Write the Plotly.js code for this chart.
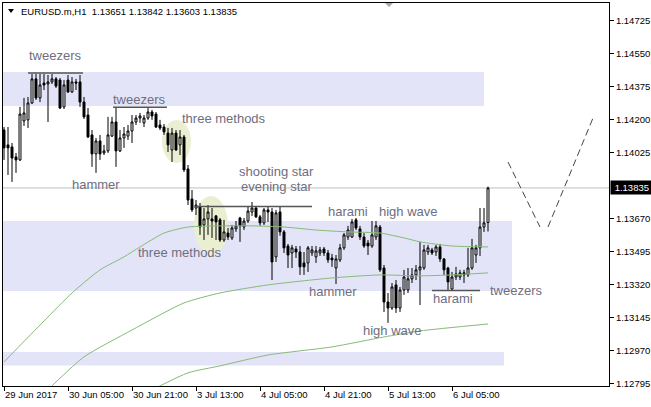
<!DOCTYPE html>
<html>
<head>
<meta charset="utf-8">
<script src="https://cdn.plot.ly/plotly-3.0.1.min.js"></script>
<style>
  html, body { margin: 0; padding: 0; background: #ffffff; }
  #chart { width: 651px; height: 407px; }
</style>
</head>
<body>
<div id="chart"></div>
<script>
// EURUSD.m, H1 candles (bar 0 = 29 Jun 2017)
const symbol = 'EURUSD.m,H1';

const open = [
  1.14143, 1.14064, 1.14053, 1.14000, 1.13984, 1.14191, 1.14197, 1.14287, 1.14415, 1.14314,
  1.14393, 1.14388, 1.14399, 1.14415, 1.14409, 1.14266, 1.14409, 1.14346, 1.14399, 1.14399,
  1.14292, 1.14223, 1.14117, 1.14016, 1.14085, 1.14021, 1.14032, 1.14111, 1.14186, 1.14032,
  1.14101, 1.14111, 1.14138, 1.14186, 1.14207, 1.14181, 1.14207, 1.14239, 1.14228, 1.14170,
  1.14159, 1.14127, 1.14037, 1.14127, 1.14064, 1.14106, 1.13936, 1.13776, 1.13728, 1.13734,
  1.13638, 1.13670, 1.13670, 1.13686, 1.13665, 1.13558, 1.13595, 1.13569, 1.13617, 1.13675,
  1.13627, 1.13659, 1.13707, 1.13728, 1.13681, 1.13649, 1.13718, 1.13707, 1.13468, 1.13707,
  1.13601, 1.13526, 1.13489, 1.13510, 1.13494, 1.13436, 1.13436, 1.13489, 1.13468, 1.13489,
  1.13510, 1.13489, 1.13462, 1.13409, 1.13452, 1.13516, 1.13574, 1.13574, 1.13665, 1.13617,
  1.13574, 1.13542, 1.13526, 1.13574, 1.13627, 1.13409, 1.13228, 1.13196, 1.13319, 1.13196,
  1.13292, 1.13292, 1.13351, 1.13372, 1.13399, 1.13409, 1.13494, 1.13505, 1.13494, 1.13521,
  1.13457, 1.13409, 1.13297, 1.13361, 1.13361, 1.13383, 1.13372, 1.13409, 1.13478, 1.13516,
  1.13627, 1.13651
];
const high = [
  1.14159, 1.14159, 1.14074, 1.14021, 1.14266, 1.14314, 1.14319, 1.14441, 1.14441, 1.14441,
  1.14441, 1.14436, 1.14441, 1.14425, 1.14420, 1.14409, 1.14436, 1.14425, 1.14415, 1.14436,
  1.14319, 1.14260, 1.14143, 1.14101, 1.14117, 1.14064, 1.14213, 1.14213, 1.14260, 1.14143,
  1.14159, 1.14170, 1.14223, 1.14223, 1.14234, 1.14223, 1.14260, 1.14250, 1.14239, 1.14197,
  1.14175, 1.14154, 1.14154, 1.14143, 1.14143, 1.14117, 1.13957, 1.13824, 1.13771, 1.13755,
  1.13728, 1.13744, 1.13728, 1.13691, 1.13675, 1.13665, 1.13622, 1.13638, 1.13659, 1.13681,
  1.13675, 1.13734, 1.13760, 1.13739, 1.13691, 1.13728, 1.13734, 1.13728, 1.13718, 1.13734,
  1.13611, 1.13537, 1.13532, 1.13526, 1.13526, 1.13494, 1.13526, 1.13526, 1.13526, 1.13521,
  1.13521, 1.13505, 1.13484, 1.13478, 1.13537, 1.13595, 1.13633, 1.13670, 1.13675, 1.13633,
  1.13595, 1.13558, 1.13659, 1.13659, 1.13638, 1.13425, 1.13276, 1.13329, 1.13345, 1.13308,
  1.13399, 1.13409, 1.13409, 1.13425, 1.13548, 1.13532, 1.13532, 1.13516, 1.13532, 1.13537,
  1.13462, 1.13415, 1.13388, 1.13415, 1.13399, 1.13399, 1.13516, 1.13564, 1.13532, 1.13728,
  1.13728, 1.13842
];
const low = [
  1.13984, 1.13904, 1.13867, 1.13915, 1.13978, 1.14165, 1.14154, 1.14282, 1.14303, 1.14292,
  1.14356, 1.14186, 1.14388, 1.14367, 1.14255, 1.14255, 1.14340, 1.14340, 1.14356, 1.14266,
  1.14202, 1.14101, 1.13947, 1.13915, 1.13984, 1.14010, 1.14021, 1.14106, 1.13947, 1.14026,
  1.14048, 1.14090, 1.14074, 1.14170, 1.14181, 1.14159, 1.14197, 1.14197, 1.14154, 1.14143,
  1.14117, 1.14026, 1.13973, 1.14032, 1.14010, 1.13920, 1.13744, 1.13707, 1.13691, 1.13585,
  1.13558, 1.13585, 1.13569, 1.13558, 1.13548, 1.13548, 1.13558, 1.13558, 1.13601, 1.13548,
  1.13611, 1.13649, 1.13686, 1.13675, 1.13633, 1.13638, 1.13654, 1.13345, 1.13441, 1.13580,
  1.13489, 1.13409, 1.13409, 1.13462, 1.13372, 1.13372, 1.13388, 1.13473, 1.13436, 1.13473,
  1.13473, 1.13436, 1.13415, 1.13324, 1.13441, 1.13505, 1.13558, 1.13569, 1.13611, 1.13558,
  1.13516, 1.13478, 1.13516, 1.13558, 1.13388, 1.13175, 1.13117, 1.13186, 1.13170, 1.13175,
  1.13266, 1.13276, 1.13329, 1.13345, 1.13212, 1.13399, 1.13478, 1.13478, 1.13473, 1.13441,
  1.13372, 1.13292, 1.13292, 1.13345, 1.13345, 1.13329, 1.13361, 1.13399, 1.13436, 1.13473,
  1.13601, 1.13603
];
const close = [
  1.14048, 1.14048, 1.13994, 1.13984, 1.14228, 1.14234, 1.14287, 1.14415, 1.14314, 1.14383,
  1.14383, 1.14399, 1.14415, 1.14377, 1.14260, 1.14383, 1.14346, 1.14399, 1.14393, 1.14292,
  1.14213, 1.14106, 1.14016, 1.14085, 1.14016, 1.14032, 1.14117, 1.14186, 1.14032, 1.14101,
  1.14122, 1.14138, 1.14186, 1.14207, 1.14218, 1.14207, 1.14239, 1.14218, 1.14159, 1.14154,
  1.14133, 1.14064, 1.14127, 1.14037, 1.14106, 1.13931, 1.13771, 1.13718, 1.13744, 1.13627,
  1.13670, 1.13707, 1.13659, 1.13654, 1.13558, 1.13601, 1.13574, 1.13622, 1.13633, 1.13633,
  1.13659, 1.13712, 1.13728, 1.13681, 1.13649, 1.13718, 1.13707, 1.13441, 1.13702, 1.13601,
  1.13516, 1.13478, 1.13516, 1.13494, 1.13415, 1.13415, 1.13516, 1.13505, 1.13500, 1.13505,
  1.13489, 1.13452, 1.13452, 1.13457, 1.13516, 1.13585, 1.13611, 1.13654, 1.13622, 1.13574,
  1.13526, 1.13526, 1.13585, 1.13633, 1.13399, 1.13228, 1.13196, 1.13308, 1.13196, 1.13292,
  1.13361, 1.13351, 1.13372, 1.13399, 1.13415, 1.13505, 1.13516, 1.13489, 1.13521, 1.13457,
  1.13399, 1.13335, 1.13361, 1.13377, 1.13383, 1.13372, 1.13409, 1.13516, 1.13516, 1.13627,
  1.13649, 1.13835
];

// Moving averages, sampled along the bars
const maFastBars = [0, 10, 17, 24, 30, 34, 40, 46, 54, 62, 70, 78, 86, 94, 100, 104, 112, 121];
const maFast = [1.12909, 1.13127, 1.13276, 1.13399, 1.13468, 1.13521, 1.13595, 1.13627, 1.13633,
  1.13633, 1.13627, 1.13611, 1.13601, 1.13595, 1.13569, 1.13548, 1.13526, 1.13521];
const maMidBars = [12, 20, 32, 45, 54, 66, 82, 94, 104, 112, 121];
const maMid = [1.12782, 1.12936, 1.13079, 1.13223, 1.13276, 1.13319, 1.13356, 1.13372, 1.13367, 1.13372, 1.13383];
const maSlowBars = [38, 46, 54, 66, 82, 95, 104, 121];
const maSlow = [1.12771, 1.12851, 1.12888, 1.12946, 1.12989, 1.13042, 1.13074, 1.13111];

// Axis ticks
const timeTickBars = [0, 16, 32, 48, 64, 80, 96, 112];
const timeTickLabels = ['29 Jun 2017', '30 Jun 05:00', '30 Jun 21:00', '3 Jul 13:00',
  '4 Jul 05:00', '4 Jul 21:00', '5 Jul 13:00', '6 Jul 05:00'];
const priceTicks = [1.14725, 1.14550, 1.14375, 1.14200, 1.14025, 1.13670, 1.13495,
  1.13320, 1.13145, 1.12970, 1.12795];

// Zones and pattern marks (price levels)
const zones = [
  { from: 1.14452, to: 1.14271, lastBar: 120 },
  { from: 1.13659, to: 1.13287, lastBar: 127 },
  { from: 1.12962, to: 1.12890, lastBar: 125 }
];
const highlights = [
  { bar0: 39.5, bar1: 46.75, p0: 1.14197, p1: 1.13968 },
  { bar0: 47.5, bar1: 56, p0: 1.13792, p1: 1.13478 }
];
const patternLevels = [
  { bar0: 6, bar1: 19.75, price: 1.14447 },
  { bar0: 27.25, bar1: 40.75, price: 1.14264 },
  { bar0: 47.75, bar1: 77, price: 1.13736 },
  { bar0: 107, bar1: 119, price: 1.13289 }
];
const patternLabels = [
  { text: 'tweezers', bar: 12.9, price: 1.14542 },
  { text: 'tweezers', bar: 33.75, price: 1.14303 },
  { text: 'three methods', bar: 55.1, price: 1.14207 },
  { text: 'hammer', bar: 23, price: 1.13851 },
  { text: 'shooting star', bar: 68, price: 1.13920 },
  { text: 'evening star', bar: 68, price: 1.13840 },
  { text: 'three methods', bar: 44, price: 1.13494 },
  { text: 'harami', bar: 86, price: 1.13712 },
  { text: 'high wave', bar: 101, price: 1.13712 },
  { text: 'hammer', bar: 82.25, price: 1.13282 },
  { text: 'high wave', bar: 97, price: 1.13079 },
  { text: 'harami', bar: 112.25, price: 1.13244 },
  { text: 'tweezers', bar: 128, price: 1.13287 }
];
// Projected path (two dashed legs)
const projection = [
  { bar0: 126, p0: 1.13973, bar1: 134, p1: 1.13627 },
  { bar0: 136, p0: 1.13627, bar1: 147.25, p1: 1.14207 }
];

const bars = open.map((_, i) => i);
const last = open.length - 1;
const axisFont = { family: 'Liberation Sans, Arial, sans-serif', size: 9.5, color: '#000000' };
const labelFont = { family: 'Liberation Sans, Arial, sans-serif', size: 13, color: '#6E6E80' };
const maLine = { color: '#85BB77', width: 1, shape: 'spline', smoothing: 0.6 };

const traces = [
  {
    type: 'candlestick', x: bars, open: open, high: high, low: low, close: close,
    increasing: { line: { color: '#000000', width: 1 }, fillcolor: '#ffffff' },
    decreasing: { line: { color: '#000000', width: 1 }, fillcolor: '#000000' },
    whiskerwidth: 0, hoverinfo: 'skip', showlegend: false
  },
  { type: 'scatter', mode: 'lines', x: maFastBars, y: maFast, line: maLine, hoverinfo: 'skip', showlegend: false },
  { type: 'scatter', mode: 'lines', x: maMidBars, y: maMid, line: maLine, hoverinfo: 'skip', showlegend: false },
  { type: 'scatter', mode: 'lines', x: maSlowBars, y: maSlow, line: maLine, hoverinfo: 'skip', showlegend: false }
];

const xMin = -0.25, xMax = 151.25;
const shapes = [];
zones.forEach(z => shapes.push({
  type: 'rect', xref: 'x', yref: 'y', x0: xMin, x1: z.lastBar, y0: z.to, y1: z.from,
  fillcolor: '#E4E4F8', line: { width: 0 }, layer: 'below'
}));
highlights.forEach(h => shapes.push({
  type: 'circle', xref: 'x', yref: 'y', x0: h.bar0, x1: h.bar1, y0: h.p1, y1: h.p0,
  fillcolor: '#EBEFD2', line: { width: 0 }, layer: 'below'
}));
// current price line
shapes.push({
  type: 'line', xref: 'x', yref: 'y', x0: xMin, x1: xMax, y0: close[last], y1: close[last],
  line: { color: '#C0C0C0', width: 1 }, layer: 'below'
});
patternLevels.forEach(p => shapes.push({
  type: 'line', xref: 'x', yref: 'y', x0: p.bar0, x1: p.bar1, y0: p.price, y1: p.price,
  line: { color: '#555555', width: 1.5 }
}));
projection.forEach(p => shapes.push({
  type: 'line', xref: 'x', yref: 'y', x0: p.bar0, x1: p.bar1, y0: p.p0, y1: p.p1,
  line: { color: '#444444', width: 1, dash: '7px,4px' }
}));
// header drop-down marker and chart shift marker
shapes.push({ type: 'path', xref: 'paper', yref: 'paper',
  path: 'M0.00825,0.98433 L0.01815,0.98433 L0.0132,0.97389 Z',
  fillcolor: '#000000', line: { width: 0 } });
shapes.push({ type: 'path', xref: 'paper', yref: 'paper',
  path: 'M0.6304,1 L0.6436,1 L0.637,0.98956 Z',
  fillcolor: '#A8A8A8', line: { width: 0 } });

const annotations = patternLabels.map(l => ({
  xref: 'x', yref: 'y', x: l.bar, y: l.price, text: l.text, showarrow: false,
  font: labelFont, xanchor: 'center', yanchor: 'middle', borderpad: 0
}));
annotations.push({
  xref: 'paper', yref: 'paper', x: 0.0264, y: 0.979, xanchor: 'left', yanchor: 'middle',
  showarrow: false, font: axisFont,
  text: symbol + '&nbsp;&nbsp;' + [open[last], high[last], low[last], close[last]].map(v => v.toFixed(5)).join(' ')
});
annotations.push({
  xref: 'paper', yref: 'y', x: 1, y: close[last], xanchor: 'left', yanchor: 'middle',
  xshift: 1, showarrow: false, bgcolor: '#000000', borderpad: 1,
  font: { family: axisFont.family, size: 9.5, color: '#ffffff' },
  text: '&nbsp;' + close[last].toFixed(5) + '&nbsp;'
});

const layout = {
  width: 651, height: 407,
  margin: { l: 3, r: 42, t: 3, b: 21, pad: 0 },
  paper_bgcolor: '#ffffff', plot_bgcolor: '#ffffff',
  showlegend: false,
  dragmode: false,
  xaxis: {
    range: [xMin, xMax], fixedrange: true,
    rangeslider: { visible: false },
    showgrid: false, zeroline: false,
    showline: true, mirror: true, linecolor: '#000000', linewidth: 1,
    tickmode: 'array', tickvals: timeTickBars, ticktext: timeTickLabels,
    ticks: 'outside', ticklen: 4, tickcolor: '#000000', tickwidth: 1,
    ticklabelposition: 'outside right', tickfont: axisFont
  },
  yaxis: {
    range: [1.12781, 1.14819], fixedrange: true, side: 'right',
    showgrid: false, zeroline: false,
    showline: true, mirror: true, linecolor: '#000000', linewidth: 1,
    tickmode: 'array', tickvals: priceTicks, ticktext: priceTicks.map(v => v.toFixed(5)),
    ticks: 'outside', ticklen: 4, tickcolor: '#000000', tickwidth: 1,
    tickfont: axisFont
  },
  shapes: shapes,
  annotations: annotations
};

Plotly.newPlot('chart', traces, layout, { displayModeBar: false, staticPlot: true });
</script>
</body>
</html>
